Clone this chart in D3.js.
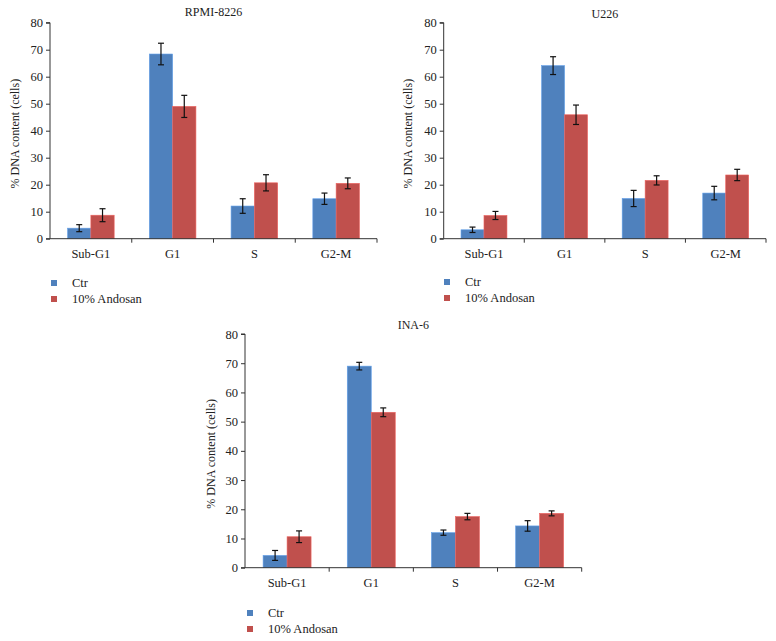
<!DOCTYPE html>
<html><head><meta charset="utf-8">
<script src="https://cdn.jsdelivr.net/npm/d3@7"></script>
<style>body{margin:0;background:#fff}svg{display:block}text{font-family:"Liberation Serif","DejaVu Serif",serif;fill:#222}</style>
</head><body>
<svg id="c" width="776" height="641"></svg>
<script>
const categories = ["Sub-G1","G1","S","G2-M"];
const seriesNames = ["Ctr","10% Andosan"];
const yTicks = [0,10,20,30,40,50,60,70,80];
const colors = ["#4f81bd","#c0504d"];

const rpmiCtr = [3.9, 68.4, 12.1, 14.8];
const rpmiCtrErr = [1.3, 4.0, 2.7, 2.1];
const rpmiAnd = [8.7, 49.0, 20.7, 20.5];
const rpmiAndErr = [2.4, 4.1, 3.0, 2.0];

const u226Ctr = [3.3, 64.1, 14.9, 16.9];
const u226CtrErr = [1.0, 3.3, 3.0, 2.5];
const u226And = [8.6, 45.9, 21.6, 23.6];
const u226AndErr = [1.5, 3.6, 1.7, 2.1];

const inaCtr = [4.2, 69.0, 12.0, 14.3];
const inaCtrErr = [1.7, 1.3, 0.9, 1.8];
const inaAnd = [10.6, 53.2, 17.5, 18.6];
const inaAndErr = [2.0, 1.5, 1.1, 0.85];

const svg = d3.select("#c");

function chart(cfg){
  const g = svg.append("g");
  const x0 = d3.scaleBand().domain(categories).range([cfg.l, cfg.r]).paddingInner(0).paddingOuter(0);
  const bw = x0.bandwidth();
  const x1 = d3.scaleBand().domain(seriesNames).range([bw*0.215, bw*0.785]);
  const y = d3.scaleLinear().domain([0,80]).range([cfg.b, cfg.t]);
  const vals = [cfg.ctr, cfg.and];
  const errs = [cfg.ctrErr, cfg.andErr];

  seriesNames.forEach((s,si)=>{
    categories.forEach((c,ci)=>{
      const v = vals[si][ci], e = errs[si][ci];
      const bx = x0(c)+x1(s);
      g.append("rect").attr("x",bx).attr("y",y(v)).attr("width",x1.bandwidth()).attr("height",y(0)-y(v))
        .attr("fill",colors[si]).attr("stroke",d3.color(colors[si]).brighter(0.6)).attr("stroke-width",0.6);
      const cx = bx + x1.bandwidth()/2;
      g.append("line").attr("x1",cx).attr("x2",cx).attr("y1",y(v+e)).attr("y2",y(v-e)).attr("stroke","#111").attr("stroke-width",1.2);
      [v+e, v-e].forEach(t=>g.append("line").attr("x1",cx-3).attr("x2",cx+3).attr("y1",y(t)).attr("y2",y(t)).attr("stroke","#111").attr("stroke-width",1.2));
    });
  });

  // y axis
  const ya = g.append("g").attr("transform",`translate(${cfg.l},0)`)
    .call(d3.axisLeft(y).tickValues(yTicks).tickSize(4).tickPadding(3));
  ya.select(".domain").attr("stroke","#333").attr("d",`M-4,${cfg.b}H0V${cfg.t}H-4`);
  ya.selectAll(".tick line").attr("stroke","#333");
  ya.selectAll("text").style("font-size","12.5px").style("font-family",'"Liberation Serif",serif').attr("fill","#222");

  // x axis
  const xa = g.append("g").attr("transform",`translate(0,${cfg.b})`)
    .call(d3.axisBottom(x0).tickSize(0).tickPadding(10));
  xa.select(".domain").attr("stroke","#333").attr("d",`M${cfg.l},0H${cfg.r}`);
  xa.selectAll("text").style("font-size","12.5px").style("font-family",'"Liberation Serif",serif').attr("fill","#222");
  categories.forEach((c,i)=>{
    const bx = x0(c)+bw;
    g.append("line").attr("x1",bx).attr("x2",bx).attr("y1",cfg.b).attr("y2",cfg.b+4).attr("stroke","#333");
  });

  // title
  g.append("text").attr("x",(cfg.l+cfg.r)/2).attr("y",cfg.titleY).attr("text-anchor","middle").style("font-size","12px").text(cfg.title);
  // y label
  g.append("text").attr("transform",`translate(${cfg.labX},${(cfg.t+cfg.b)/2+3}) rotate(-90)`).attr("text-anchor","middle").style("font-size","12px").text("% DNA content (cells)");

  // legend
  seriesNames.forEach((s,si)=>{
    const ly = cfg.legY + si*16;
    g.append("rect").attr("x",cfg.legX).attr("y",ly-7).attr("width",6).attr("height",6).attr("fill",colors[si]);
    g.append("text").attr("x",cfg.legX+21).attr("y",ly).style("font-size","12.5px").text(s);
  });
}

chart({l:50, r:377, t:22.7, b:238.7, title:"RPMI-8226", titleY:16, labX:19, legX:51, legY:287,
  ctr:rpmiCtr, ctrErr:rpmiCtrErr, and:rpmiAnd, andErr:rpmiAndErr});
chart({l:443.7, r:766, t:22.7, b:238.7, title:"U226", titleY:18, labX:412, legX:444, legY:286,
  ctr:u226Ctr, ctrErr:u226CtrErr, and:u226And, andErr:u226AndErr});
chart({l:245, r:581.7, t:334, b:567.7, title:"INA-6", titleY:329, labX:215, legX:247, legY:617,
  ctr:inaCtr, ctrErr:inaCtrErr, and:inaAnd, andErr:inaAndErr});
</script>
</body></html>
